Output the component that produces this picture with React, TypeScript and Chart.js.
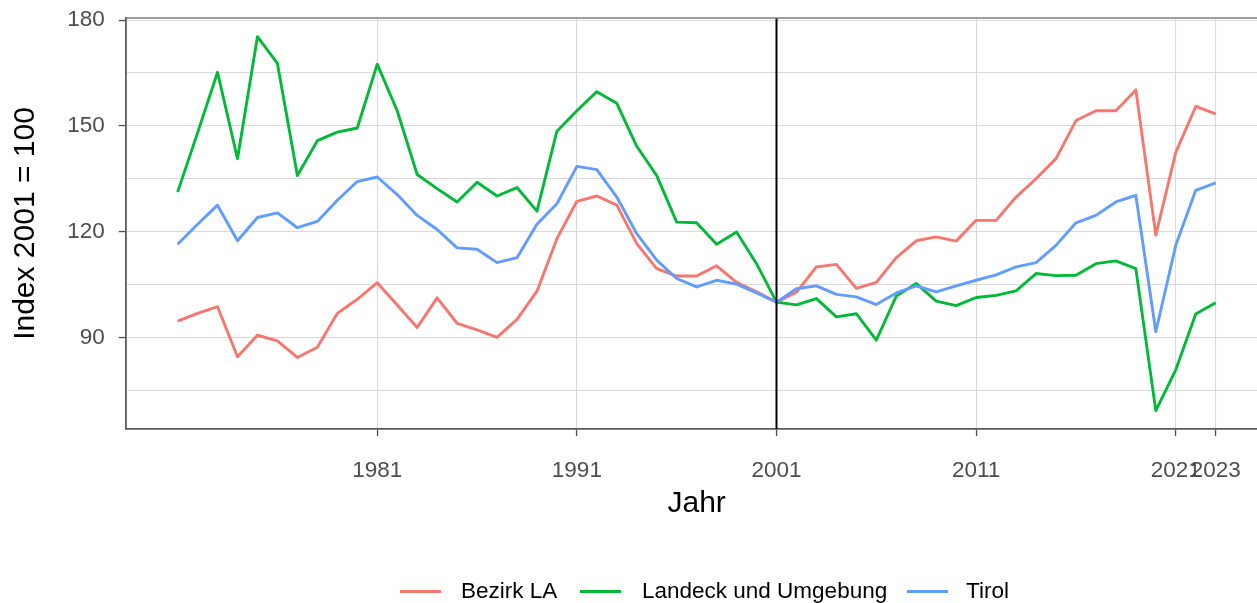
import React, { useEffect, useRef } from "react";
import { Chart, registerables } from "chart.js";

Chart.register(...registerables);

// ---- data ----
const years: number[] = [
  1971, 1972, 1973, 1974, 1975, 1976, 1977, 1978, 1979, 1980,
  1981, 1982, 1983, 1984, 1985, 1986, 1987, 1988, 1989, 1990,
  1991, 1992, 1993, 1994, 1995, 1996, 1997, 1998, 1999, 2000,
  2001, 2002, 2003, 2004, 2005, 2006, 2007, 2008, 2009, 2010,
  2011, 2012, 2013, 2014, 2015, 2016, 2017, 2018, 2019, 2020,
  2021, 2022, 2023,
];

const bezirkLA: number[] = [
  94.6, 96.8, 98.7, 84.5, 90.6, 89.0, 84.3, 87.2, 96.8, 100.8,
  105.5, 99.2, 92.8, 101.2, 94.0, 92.1, 90.0, 95.1, 103.1, 118.0,
  128.6, 130.1, 127.5, 116.6, 109.5, 107.4, 107.4, 110.3, 105.6, 102.9,
  100.0, 102.8, 110.0, 110.7, 103.9, 105.6, 112.6, 117.4, 118.5, 117.3,
  123.2, 123.2, 129.8, 135.0, 140.7, 151.5, 154.3, 154.3, 160.2, 119.0,
  142.5, 155.5, 153.4,
];

const landeckUmgebung: number[] = [
  131.2, 148.0, 165.2, 140.7, 175.3, 167.7, 135.9, 145.8, 148.2, 149.4,
  167.5, 154.3, 136.2, 132.2, 128.4, 134.0, 130.1, 132.5, 125.8, 148.5,
  154.3, 159.7, 156.4, 144.2, 135.9, 122.7, 122.5, 116.4, 119.9, 110.9,
  100.0, 99.2, 101.0, 95.8, 96.7, 89.2, 101.7, 105.3, 100.3, 99.0,
  101.3, 101.9, 103.2, 108.1, 107.5, 107.6, 110.9, 111.7, 109.5, 69.2,
  80.8, 96.6, 99.8,
];

const tirol: number[] = [
  116.4, 122.1, 127.5, 117.4, 124.0, 125.3, 121.1, 122.9, 128.9, 134.2,
  135.5, 130.5, 124.6, 120.6, 115.4, 115.0, 111.2, 112.6, 122.1, 127.9,
  138.5, 137.6, 129.8, 119.4, 111.9, 106.7, 104.3, 106.2, 105.1, 102.6,
  100.0, 103.8, 104.6, 102.2, 101.5, 99.3, 102.6, 104.6, 102.9, 104.6,
  106.2, 107.7, 110.0, 111.2, 116.1, 122.5, 124.6, 128.4, 130.3, 91.6,
  116.1, 131.7, 133.8,
];

const seriesNames: string[] = ["Bezirk LA", "Landeck und Umgebung", "Tirol"];
const seriesColors: string[] = ["#F8766D", "#00BA38", "#619CFF"];

const xTickValues: number[] = [1981, 1991, 2001, 2011, 2021, 2023];
const yMajorTicks: number[] = [90, 120, 150, 180];
const yMinorTicks: number[] = [75, 105, 135, 165];
const referenceYear = 2001;

const FONT = "'Liberation Sans', Arial, sans-serif";
const CANVAS_W = 1280;
const CANVAS_H = 603;

export default function App() {
  const canvasRef = useRef<HTMLCanvasElement>(null);

  useEffect(() => {
    document.body.style.margin = "0";
    const canvas = canvasRef.current;
    if (!canvas) return;

    const toPoints = (vals: number[]) => years.map((yr, i) => ({ x: yr, y: vals[i] }));
    const allSeries = [bezirkLA, landeckUmgebung, tirol];

    const panelPlugin = {
      id: "panelDecor",
      afterDatasetsDraw(chart: any) {
        const { ctx, chartArea, scales } = chart;
        const xp = scales.x.getPixelForValue(referenceYear);
        ctx.save();
        ctx.strokeStyle = "#000000";
        ctx.lineWidth = 2;
        ctx.beginPath();
        ctx.moveTo(xp, chartArea.top);
        ctx.lineTo(xp, chartArea.bottom);
        ctx.stroke();
        ctx.restore();
      },
      afterDraw(chart: any) {
        const { ctx, chartArea } = chart;
        ctx.save();
        ctx.strokeStyle = "#7F7F7F";
        ctx.lineWidth = 1.4;
        ctx.beginPath();
        ctx.moveTo(chartArea.left, chartArea.top);
        ctx.lineTo(chartArea.right, chartArea.top);
        ctx.stroke();
        ctx.restore();
      },
    };

    const chart = new Chart(canvas, {
      type: "line",
      data: {
        datasets: seriesNames.map((name, i) => ({
          label: name,
          data: toPoints(allSeries[i]),
          borderColor: seriesColors[i],
          backgroundColor: seriesColors[i],
          borderWidth: 2.9,
          pointRadius: 0,
          tension: 0,
          fill: false,
          borderJoinStyle: "round" as const,
          order: 3 - i,
        })),
      },
      options: {
        animation: false,
        responsive: false,
        devicePixelRatio: 1,
        layout: { padding: { left: 0, top: 18, right: CANVAS_W - 1267.6, bottom: 0 } },
        plugins: {
          legend: { display: false },
          tooltip: { enabled: false },
        },
        scales: {
          x: {
            type: "linear",
            min: 1968.4,
            max: 2025.6,
            afterBuildTicks: (scale: any) => {
              scale.ticks = xTickValues.map((v) => ({ value: v }));
            },
            afterFit: (scale: any) => {
              scale.height = CANVAS_H - 429;
              scale.paddingLeft = 0;
              scale.paddingRight = 0;
            },
            ticks: {
              autoSkip: false,
              maxRotation: 0,
              padding: 21,
              color: "#4D4D4D",
              font: { family: FONT, size: 22.5 },
              callback: (v: any) => String(v),
            },
            grid: {
              color: "#DADADA",
              lineWidth: 1.1,
              tickLength: 7,
              tickColor: "#4D4D4D",
              tickWidth: 1.3,
            },
            border: { color: "#5A5A5A", width: 1.8 },
            title: {
              display: true,
              text: "Jahr",
              color: "#000000",
              font: { family: FONT, size: 30 },
              padding: { top: 0, bottom: 81 },
            },
          },
          y: {
            type: "linear",
            min: 64.0,
            max: 180.6,
            afterBuildTicks: (scale: any) => {
              scale.ticks = [...yMinorTicks, ...yMajorTicks]
                .sort((a, b) => a - b)
                .map((v) => ({ value: v }));
            },
            afterFit: (scale: any) => {
              scale.width = 125.7;
              scale.paddingTop = 0;
              scale.paddingBottom = 0;
            },
            ticks: {
              padding: 14,
              color: "#4D4D4D",
              font: { family: FONT, size: 22.5 },
              callback: (v: any) => (yMajorTicks.includes(Number(v)) ? String(v) : ""),
            },
            grid: {
              color: "#DADADA",
              lineWidth: 1.1,
              tickLength: 7,
              tickWidth: 1.3,
              tickColor: (c: any) =>
                c.tick && yMajorTicks.includes(c.tick.value) ? "#4D4D4D" : "rgba(0,0,0,0)",
            },
            border: { color: "#5A5A5A", width: 1.8 },
            title: {
              display: true,
              text: "Index 2001 = 100",
              color: "#000000",
              font: { family: FONT, size: 30 },
              padding: { top: 8, bottom: 0 },
            },
          },
        },
      },
      plugins: [panelPlugin],
    } as any);

    return () => chart.destroy();
  }, []);

  const legendItems = [
    { lineLeft: 400, textLeft: 461 },
    { lineLeft: 580, textLeft: 642 },
    { lineLeft: 907, textLeft: 966 },
  ];

  return (
    <div
      style={{
        position: "absolute",
        left: 0,
        top: 0,
        width: 1257,
        height: 603,
        overflow: "hidden",
        background: "#ffffff",
      }}
    >
      <canvas
        ref={canvasRef}
        width={CANVAS_W}
        height={CANVAS_H}
        style={{ position: "absolute", left: 0, top: 0, width: CANVAS_W, height: CANVAS_H }}
      />
      {seriesNames.map((name, i) => (
        <React.Fragment key={name}>
          <div
            style={{
              position: "absolute",
              left: legendItems[i].lineLeft,
              top: 590,
              width: 41,
              height: 3,
              background: seriesColors[i],
            }}
          />
          <span
            style={{
              position: "absolute",
              left: legendItems[i].textLeft,
              top: 578,
              fontFamily: FONT,
              fontSize: 22.5,
              lineHeight: "26px",
              color: "#000000",
              whiteSpace: "nowrap",
            }}
          >
            {name}
          </span>
        </React.Fragment>
      ))}
    </div>
  );
}
